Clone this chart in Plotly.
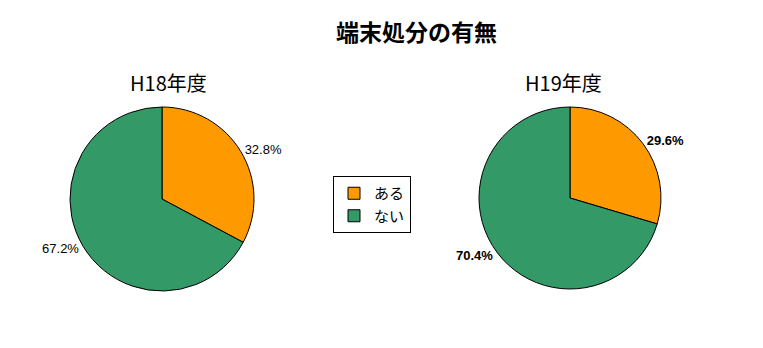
import plotly.graph_objects as go

title = "端末処分の有無"
categories = ["ある", "ない"]
years = ["H18年度", "H19年度"]
values_h18 = [32.8, 67.2]
values_h19 = [29.6, 70.4]
colors = ["#FF9900", "#339966"]

W, H = 763, 348
font_family = "Noto Sans CJK JP, Noto Sans, sans-serif"

def dom(cx, cy, r):
    return dict(x=[(cx - r) / W, (cx + r) / W], y=[1 - (cy + r) / H, 1 - (cy - r) / H])

fig = go.Figure()
for i, (vals, d) in enumerate([(values_h18, dom(162, 199, 92)), (values_h19, dom(570, 198, 91))]):
    fig.add_trace(go.Pie(
        labels=categories, values=vals, sort=False, direction="clockwise", rotation=0,
        marker=dict(colors=colors, line=dict(color="black", width=1)),
        textposition="outside", textinfo="text",
        text=[f"{v:.1f}%" if i == 0 else f"<b>{v:.1f}%</b>" for v in vals],
        textfont=dict(size=13, color="black", family="Arial, Liberation Sans, sans-serif"),
        domain=d, showlegend=True, hoverinfo="label+percent",
    ))

fig.add_annotation(text=f"<b>{title}</b>", x=417 / W, y=1 - 31 / H, xref="paper", yref="paper",
                   xanchor="center", yanchor="middle", showarrow=False,
                   font=dict(size=23, color="black", family=font_family))
for txt, cx in zip(years, [168, 563]):
    fig.add_annotation(text=txt, x=cx / W, y=1 - 82 / H, xref="paper", yref="paper",
                       xanchor="center", yanchor="middle", showarrow=False,
                       font=dict(size=20, color="black", family=font_family))

fig.update_layout(
    width=W, height=H, margin=dict(l=0, r=0, t=0, b=0),
    paper_bgcolor="white", plot_bgcolor="white",
    font=dict(family=font_family, color="black"),
    legend=dict(x=333 / W, y=1 - 176 / H, xanchor="left", yanchor="top",
                bordercolor="black", borderwidth=1, bgcolor="white",
                font=dict(size=15, family=font_family),
                itemwidth=30, tracegroupgap=0),
)
fig.write_html("out.html")
